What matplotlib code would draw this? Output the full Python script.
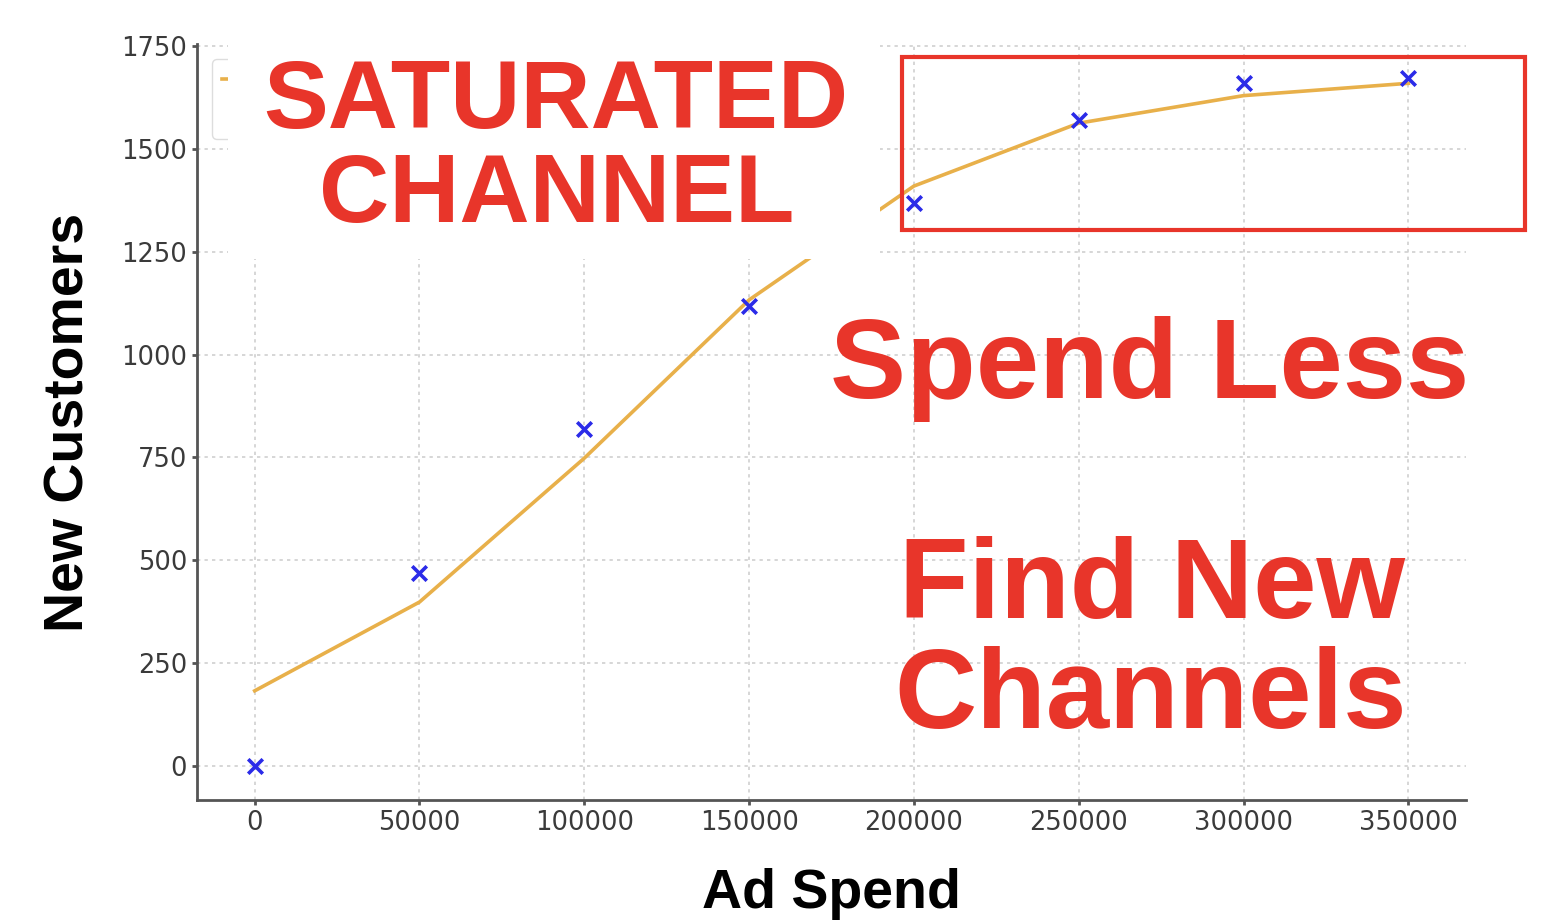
import matplotlib.pyplot as plt
from matplotlib.patches import Rectangle

# Data
ad_spend = [0, 50000, 100000, 150000, 200000, 250000, 300000, 350000]
actual_customers = [0, 468, 818, 1118, 1368, 1570, 1660, 1672]
fitted_customers = [182, 398, 748, 1133, 1410, 1563, 1630, 1660]

x_ticks = [0, 50000, 100000, 150000, 200000, 250000, 300000, 350000]
y_ticks = [0, 250, 500, 750, 1000, 1250, 1500, 1750]

RED = "#E8352A"
W, H = 1564, 922

fig = plt.figure(figsize=(W / 100, H / 100), dpi=100)
ax = fig.add_axes([197 / W, 1 - 800 / H, (1466 - 197) / W, (800 - 44) / H])

ax.plot(ad_spend, fitted_customers, color="#E8B04A", linewidth=2.6, label="Fitted curve")
ax.scatter(ad_spend, actual_customers, marker="x", color="#2B2BE8", s=110,
           linewidths=2.6, zorder=3, label="Actual")

ax.set_xlim(-17500, 367500)
ax.set_ylim(-83.6, 1755.6)
ax.set_xticks(x_ticks)
ax.set_yticks(y_ticks)
ax.grid(True, linestyle=(0, (2, 2.5)), color="#D0D0D0", linewidth=1.2)
ax.set_axisbelow(True)

for side in ("top", "right"):
    ax.spines[side].set_visible(False)
for side in ("left", "bottom"):
    ax.spines[side].set_color("#555555")
    ax.spines[side].set_linewidth(2)
ax.tick_params(colors="#555555", width=2, length=3.5, labelsize=18.5,
               labelcolor="#3A3A3A", pad=3.7)

ax.legend(loc="upper left", fontsize=18, framealpha=1, edgecolor="#DDDDDD",
          borderaxespad=0.6)

ax.set_xlabel("Ad Spend", fontsize=40, fontweight="bold",
              family="Liberation Sans", labelpad=23)
ax.set_ylabel("New Customers", fontsize=40, fontweight="bold",
              family="Liberation Sans", labelpad=18.4)

# white patch hiding the top-left corner of the chart
fig.patches.append(Rectangle((228 / W, 1 - 259 / H), (880 - 228) / W, 259 / H,
                             transform=fig.transFigure, facecolor="white",
                             edgecolor="none", zorder=5))

# red box around the saturated region
fig.patches.append(Rectangle((902 / W, 1 - 230 / H), (1525 - 902) / W, (230 - 57) / H,
                             transform=fig.transFigure, facecolor="none",
                             edgecolor=RED, linewidth=3, zorder=6))

txt = dict(color=RED, fontweight="bold", family="Liberation Sans",
           ha="center", zorder=7, transform=fig.transFigure)
fig.text(556 / W, 1 - 128 / H, "SATURATED", fontsize=70, va="baseline", **txt)
fig.text(557 / W, 1 - 222 / H, "CHANNEL", fontsize=70, va="baseline", **txt)
fig.text(1150 / W, 1 - 398 / H, "Spend Less", fontsize=82, va="baseline", **txt)
fig.text(1152 / W, 1 - 618 / H, "Find New", fontsize=82, va="baseline", **txt)
fig.text(1151 / W, 1 - 728 / H, "Channels", fontsize=82, va="baseline", **txt)

fig.savefig("out.png", dpi=100)
